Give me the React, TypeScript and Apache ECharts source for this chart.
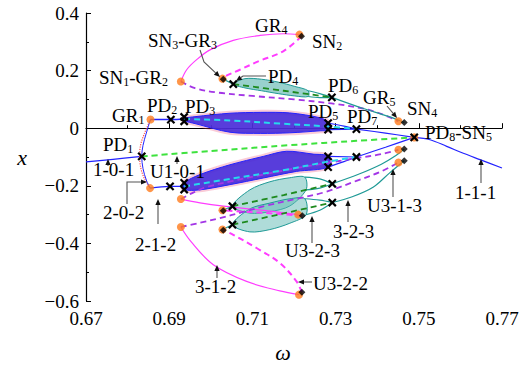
import React, { useEffect, useRef } from "react";
import * as echarts from "echarts";

const SERIF = '"Liberation Serif", "Times New Roman", serif';

// ---- axes ----
const OMEGA_MIN = 0.67;
const OMEGA_MAX = 0.77;
const OMEGA_STEP = 0.02;
const X_MIN = -0.6;
const X_MAX = 0.4;
const X_STEP = 0.2;

// ---- period-1 orbit ----
const p1Left = [[0.67, -0.117], [0.6765, -0.108], [0.6834, -0.098]];
const p1Unstable = [[0.6834, -0.098], [0.7, -0.079], [0.719, -0.059], [0.735, -0.044], [0.7489, -0.032]];
const p1Right = [[0.7489, -0.032], [0.7527, -0.04], [0.7567, -0.063], [0.7607, -0.087], [0.7647, -0.109], [0.77, -0.138]];

// ---- period-2 orbit ----
const p2Fork = [[0.6855, 0.03], [0.6845, -0.017], [0.6837, -0.06], [0.6834, -0.098], [0.6837, -0.14], [0.6845, -0.18], [0.6854, -0.208]];
const p2ForkUnstable = [[0.6855, 0.03], [0.684, -0.02], [0.6831, -0.06], [0.6829, -0.098], [0.6832, -0.14], [0.6842, -0.18], [0.6854, -0.208]];
const p2UpperStable = [[0.6855, 0.03], [0.6904, 0.03], [0.6936, 0.032]];
const p2LowerStable = [[0.6854, -0.208], [0.6902, -0.202], [0.6936, -0.202]];
const p2UpperUnstable = [[0.6936, 0.032], [0.7046, 0.027], [0.7166, 0.016], [0.7282, 0.006], [0.735, -0.003]];
const p2LowerUnstable = [[0.6936, -0.202], [0.705, -0.175], [0.717, -0.147], [0.7282, -0.116], [0.735, -0.1]];
const p4UpperA = [[0.7282, 0.018], [0.732, 0.007], [0.735, -0.003]];
const p4UpperB = [[0.7282, -0.005], [0.735, -0.003]];
const p4LowerA = [[0.7282, -0.098], [0.735, -0.1]];
const p4LowerB = [[0.7282, -0.135], [0.732, -0.116], [0.735, -0.1]];
const p2UpperRight = [[0.735, -0.003], [0.742, -0.017], [0.7489, -0.032]];
const p2LowerRight = [[0.735, -0.1], [0.742, -0.066], [0.7489, -0.032]];

// chaotic bands of the period-2 cascade
const chaosUpper = [
  [0.6936, 0.034], [0.6962, 0.04], [0.7046, 0.052], [0.712, 0.055], [0.719, 0.053], [0.7263, 0.036], [0.7282, 0.02],
  [0.7282, -0.006], [0.7263, -0.009], [0.719, -0.016], [0.712, -0.018], [0.7046, -0.014], [0.6962, 0.016], [0.6936, 0.026],
];
const chaosLower = [
  [0.6936, -0.19], [0.6974, -0.161], [0.7046, -0.127], [0.7126, -0.098], [0.7182, -0.08], [0.7246, -0.09], [0.7282, -0.097],
  [0.7282, -0.135], [0.7206, -0.15], [0.7126, -0.173], [0.7046, -0.196], [0.6974, -0.214], [0.6936, -0.213],
];

// ---- period-3 orbit ----
const p3StableA = [[0.6928, 0.162], [0.6942, 0.203], [0.6966, 0.238], [0.6998, 0.272], [0.7054, 0.305], [0.7118, 0.322], [0.7175, 0.328], [0.7213, 0.325]];
const p3StableB = [[0.6928, -0.246], [0.6974, -0.259], [0.7026, -0.27], [0.7126, -0.285], [0.721, -0.3]];
const p3StableC = [[0.6928, -0.343], [0.6952, -0.393], [0.7006, -0.474], [0.7086, -0.532], [0.7166, -0.565], [0.7212, -0.578]];
const p3SaddleA = [[0.7218, 0.319], [0.7174, 0.267], [0.7114, 0.232], [0.707, 0.203], [0.7034, 0.18], [0.7028, 0.172]];
const p3SaddleB = [[0.722, -0.304], [0.715, -0.296], [0.708, -0.29], [0.7028, -0.285]];
const p3SaddleC = [[0.7219, -0.57], [0.7206, -0.532], [0.7166, -0.468], [0.711, -0.416], [0.7054, -0.37], [0.7028, -0.352]];
const p3UnstableA = [[0.6928, 0.162], [0.6962, 0.139], [0.7015, 0.124], [0.71, 0.112], [0.72, 0.1], [0.729, 0.086], [0.7367, 0.068], [0.7411, 0.049], [0.7451, 0.024]];
const p3UnstableB = [[0.6928, -0.246], [0.696, -0.222], [0.699, -0.204], [0.705, -0.184], [0.712, -0.163], [0.72, -0.14], [0.7282, -0.12], [0.735, -0.104], [0.741, -0.09], [0.7451, -0.075]];
const p3UnstableC = [[0.6928, -0.343], [0.6975, -0.328], [0.7022, -0.312], [0.708, -0.29], [0.713, -0.27], [0.72, -0.247], [0.7274, -0.222], [0.735, -0.183], [0.741, -0.15], [0.7451, -0.119]];

// period-3 segments past SN3 / PD4 / PD6
const p3LinkA = [[0.7028, 0.172], [0.7054, 0.153]];
const p3LinkB = [[0.7028, -0.285], [0.7052, -0.271]];
const p3LinkC = [[0.7028, -0.352], [0.7052, -0.335]];
const p3MidA = [[0.7054, 0.153], [0.7175, 0.13], [0.7291, 0.107]];
const p3MidB = [[0.7052, -0.271], [0.7175, -0.232], [0.7292, -0.193]];
const p3MidC = [[0.7052, -0.335], [0.7175, -0.296], [0.7292, -0.258]];
const p3TailA = [[0.7291, 0.107], [0.7363, 0.07], [0.7427, 0.041], [0.7465, 0.02]];
const p3TailB = [[0.7292, -0.193], [0.7355, -0.16], [0.741, -0.125], [0.7445, -0.095], [0.7465, -0.072]];
const p3TailC = [[0.7292, -0.258], [0.734, -0.238], [0.739, -0.205], [0.743, -0.155], [0.7465, -0.113]];

// period-6 loops (upper / lower edges after the chaotic part)
const p6Loops = [
  [[0.7234, 0.13], [0.7262, 0.12], [0.7291, 0.107]],
  [[0.7234, 0.11], [0.7262, 0.106], [0.7291, 0.107]],
  [[0.7226, -0.17], [0.7262, -0.176], [0.7292, -0.193]],
  [[0.7229, -0.214], [0.7262, -0.208], [0.7292, -0.193]],
  [[0.7226, -0.245], [0.7262, -0.25], [0.7292, -0.258]],
  [[0.7229, -0.3], [0.7262, -0.285], [0.7292, -0.258]],
];

// chaotic regions of the period-3 cascade
const chaosA = [
  [0.7054, 0.153], [0.7082, 0.172], [0.7122, 0.17], [0.7162, 0.16], [0.7202, 0.145], [0.7234, 0.13],
  [0.7234, 0.11], [0.7202, 0.112], [0.7162, 0.12], [0.7122, 0.13], [0.7082, 0.14],
];
const chaosB = [
  [0.7052, -0.271], [0.7094, -0.214], [0.7142, -0.186], [0.719, -0.172], [0.7226, -0.17],
  [0.7229, -0.214], [0.719, -0.27], [0.7142, -0.29], [0.7094, -0.295],
];
const chaosC = [
  [0.7052, -0.335], [0.7094, -0.28], [0.7142, -0.26], [0.719, -0.245], [0.7226, -0.245],
  [0.7229, -0.3], [0.719, -0.33], [0.7142, -0.352], [0.7094, -0.36],
];

// ---- bifurcation points ----
const grazing = [
  [0.6855, 0.03], [0.6854, -0.208],
  [0.6928, 0.162], [0.6928, -0.246], [0.6928, -0.343],
  [0.7028, 0.172], [0.7028, -0.285], [0.7028, -0.352],
  [0.7213, 0.325], [0.721, -0.3], [0.7212, -0.578],
  [0.7451, 0.024], [0.7451, -0.075], [0.7451, -0.119],
  [0.7489, -0.032],
];
const saddleNode = [
  [0.7218, 0.319], [0.722, -0.304], [0.7219, -0.57],
  [0.703, 0.17], [0.703, -0.287], [0.703, -0.354],
  [0.7465, 0.02], [0.7465, -0.072], [0.7465, -0.113],
];
const periodDoubling = [
  [0.6834, -0.098],
  [0.6904, 0.03], [0.6902, -0.202],
  [0.6936, 0.039], [0.6936, 0.024], [0.6936, -0.19], [0.6936, -0.213],
  [0.7054, 0.153], [0.7052, -0.271], [0.7052, -0.335],
  [0.7282, 0.018], [0.7282, -0.005], [0.7282, -0.098], [0.7282, -0.135],
  [0.7291, 0.107], [0.7292, -0.193], [0.7292, -0.258],
  [0.735, -0.003], [0.735, -0.1],
  [0.7489, -0.032],
];

// ---- annotations ----
const labels: [string, number, number][] = [
  ["GR{s|4}", 255, 25],
  ["SN{s|2}", 312, 41],
  ["SN{s|3}-GR{s|3}", 148, 40],
  ["SN{s|1}-GR{s|2}", 99, 77],
  ["PD{s|4}", 268, 76],
  ["PD{s|6}", 328, 85],
  ["GR{s|5}", 363, 97],
  ["SN{s|4}", 407, 108],
  ["PD{s|5}", 308, 111],
  ["PD{s|7}", 347, 116],
  ["PD{s|8}-SN{s|5}", 425, 132],
  ["GR{s|1}", 112, 115],
  ["PD{s|2}", 147, 105],
  ["PD{s|3}", 185, 106],
  ["PD{s|1}", 103, 144],
  ["1-0-1", 93, 169],
  ["U1-0-1", 150, 171],
  ["2-0-2", 103, 212],
  ["2-1-2", 135, 244],
  ["3-1-2", 195, 286],
  ["U3-2-2", 313, 283],
  ["U3-2-3", 285, 250],
  ["3-2-3", 333, 231],
  ["U3-1-3", 367, 205],
  ["1-1-1", 455, 192],
];
const pointers: number[][][] = [
  [[108, 166], [108, 159]],
  [[177, 164], [177, 156]],
  [[127, 204], [127, 182], [147, 182]],
  [[158, 224], [158, 199]],
  [[217, 278], [217, 265]],
  [[312, 282], [298, 282]],
  [[312, 243], [312, 216]],
  [[348, 222], [348, 200]],
  [[393, 197], [393, 169]],
  [[481, 183], [481, 159]],
  [[200, 50], [204, 62], [220, 77]],
  [[266, 76], [243, 76], [236, 81]],
  [[387, 106], [397, 118]],
];

const BLUE = "#2323ff";
const MAGENTA = "#ff3cff";
const PURPLE = "#a335e6";
const TEAL = "#1f9a96";
const DKGREEN = "#1e8a1e";

function curve(data: number[][], color: string, width: number, type: any = "solid", z = 3) {
  return {
    type: "line",
    data,
    smooth: 0.35,
    symbol: "none",
    silent: true,
    animation: false,
    z,
    lineStyle: { color, width, type },
  };
}

function region(poly: number[][], fill: string, stroke: string, halo: string | null, z = 1) {
  return {
    type: "custom",
    coordinateSystem: "cartesian2d",
    data: poly,
    silent: true,
    z,
    renderItem: (params: any, api: any) => {
      if (params.dataIndex !== 0) return null;
      const pts = poly.map((p) => api.coord(p));
      const children: any[] = [];
      if (halo) {
        children.push({
          type: "polygon",
          shape: { points: pts, smooth: 0.3 },
          style: { fill: halo, stroke: halo, lineWidth: 5 },
        });
      }
      children.push({
        type: "polygon",
        shape: { points: pts, smooth: 0.3 },
        style: { fill, stroke, lineWidth: 1 },
      });
      return { type: "group", children };
    },
  };
}

function arrowGraphics(pts: number[][]) {
  const n = pts.length;
  const [x1, y1] = pts[n - 2];
  const [x2, y2] = pts[n - 1];
  const len = Math.hypot(x2 - x1, y2 - y1) || 1;
  const ux = (x2 - x1) / len;
  const uy = (y2 - y1) / len;
  const hl = 6;
  const hw = 2.6;
  const bx = x2 - ux * hl;
  const by = y2 - uy * hl;
  return [
    {
      type: "polyline",
      shape: { points: [...pts.slice(0, n - 1), [bx, by]] },
      style: { stroke: "#555", lineWidth: 1.1, fill: null },
      z: 20,
    },
    {
      type: "polygon",
      shape: { points: [[x2, y2], [bx - uy * hw, by + ux * hw], [bx + uy * hw, by - ux * hw]] },
      style: { fill: "#111" },
      z: 20,
    },
  ];
}

export default function App() {
  const ref = useRef<HTMLDivElement>(null);
  useEffect(() => {
    const chart = echarts.init(ref.current!, null, { renderer: "svg" });
    const tickLabel = { fontFamily: SERIF, fontSize: 19, color: "#000" };
    const option: any = {
      animation: false,
      backgroundColor: "#fff",
      grid: { left: 86, top: 13, width: 416, height: 288, containLabel: false },
      xAxis: {
        type: "value",
        min: OMEGA_MIN,
        max: OMEGA_MAX,
        interval: OMEGA_STEP,
        axisLine: { lineStyle: { color: "#000", width: 1.2 } },
        axisTick: { inside: true, length: 5, lineStyle: { color: "#000" } },
        minorTick: { show: true, splitNumber: 2, length: 3, lineStyle: { color: "#000" } },
        splitLine: { show: false },
        axisLabel: { ...tickLabel, margin: 8, formatter: (v: number) => v.toFixed(2) },
      },
      yAxis: {
        type: "value",
        min: X_MIN,
        max: X_MAX,
        interval: X_STEP,
        axisLine: { lineStyle: { color: "#000", width: 1.2 } },
        axisTick: { inside: true, length: 5, lineStyle: { color: "#000" } },
        minorTick: { show: true, splitNumber: 2, length: 3, lineStyle: { color: "#000" } },
        splitLine: { show: false },
        axisLabel: {
          ...tickLabel,
          margin: 7,
          formatter: (v: number) => (Math.abs(v) < 1e-9 ? "0" : (v < 0 ? "\u2212" : "") + Math.abs(v).toFixed(1)),
        },
      },
      series: [
        region(chaosUpper, "rgba(70,46,220,0.9)", BLUE, "rgba(236,70,110,0.28)"),
        region(chaosLower, "rgba(70,46,220,0.9)", BLUE, "rgba(236,70,110,0.28)"),
        region(chaosA, "rgba(85,178,172,0.6)", TEAL, null),
        region(chaosB, "rgba(95,185,180,0.5)", TEAL, null),
        region(chaosC, "rgba(95,185,180,0.5)", TEAL, null),

        curve(p1Left, BLUE, 1.2),
        curve(p1Unstable, "#3ee23e", 2, [6, 4]),
        curve(p1Right, BLUE, 1.2),

        curve(p2ForkUnstable, "#ff4b4b", 1.2, "dotted"),
        curve(p2Fork, BLUE, 1, "solid"),
        curve(p2UpperStable, BLUE, 1.4),
        curve(p2LowerStable, BLUE, 1.4),
        curve(p2UpperUnstable, "#26d8ee", 2, [6, 4], 4),
        curve(p2LowerUnstable, "#26d8ee", 2, [6, 4], 4),
        curve(p4UpperA, BLUE, 1.2),
        curve(p4UpperB, BLUE, 1.2),
        curve(p4LowerA, BLUE, 1.2),
        curve(p4LowerB, BLUE, 1.2),
        curve(p2UpperRight, BLUE, 1.2),
        curve(p2LowerRight, BLUE, 1.2),

        curve(p3StableA, MAGENTA, 1.2),
        curve(p3StableB, MAGENTA, 1.2),
        curve(p3StableC, MAGENTA, 1.2),
        curve(p3SaddleA, MAGENTA, 2, [6, 4]),
        curve(p3SaddleB, MAGENTA, 2, [6, 4]),
        curve(p3SaddleC, MAGENTA, 2, [6, 4]),
        curve(p3UnstableA, PURPLE, 1.8, [6, 4]),
        curve(p3UnstableB, PURPLE, 1.8, [6, 4]),
        curve(p3UnstableC, PURPLE, 1.8, [6, 4]),

        curve(p3LinkA, TEAL, 1.2),
        curve(p3LinkB, TEAL, 1.2),
        curve(p3LinkC, TEAL, 1.2),
        curve(p3MidA, DKGREEN, 1.8, [6, 4], 4),
        curve(p3MidB, DKGREEN, 1.8, [6, 4], 4),
        curve(p3MidC, DKGREEN, 1.8, [6, 4], 4),
        curve(p3TailA, TEAL, 1.2),
        curve(p3TailB, TEAL, 1.2),
        curve(p3TailC, TEAL, 1.2),
        ...p6Loops.map((d) => curve(d, TEAL, 1.2)),

        {
          type: "scatter",
          data: grazing,
          symbol: "circle",
          symbolSize: 8,
          silent: true,
          z: 6,
          itemStyle: { color: "#ff7a1a" },
        },
        {
          type: "scatter",
          data: saddleNode,
          symbol: "diamond",
          symbolSize: 7,
          silent: true,
          z: 7,
          itemStyle: { color: "#000" },
        },
        {
          type: "custom",
          coordinateSystem: "cartesian2d",
          data: periodDoubling,
          silent: true,
          z: 8,
          renderItem: (params: any, api: any) => {
            const [cx, cy] = api.coord([api.value(0), api.value(1)]);
            const r = 3.6;
            const st = { stroke: "#000", lineWidth: 2.2 };
            return {
              type: "group",
              children: [
                { type: "line", shape: { x1: cx - r, y1: cy - r, x2: cx + r, y2: cy + r }, style: st },
                { type: "line", shape: { x1: cx - r, y1: cy + r, x2: cx + r, y2: cy - r }, style: st },
              ],
            };
          },
        },
      ],
      graphic: [
        ...labels.map(([text, x, y]) => ({
          type: "text",
          x,
          y,
          z: 30,
          style: {
            text,
            fill: "#000",
            fontFamily: SERIF,
            fontSize: 19,
            align: "left",
            verticalAlign: "middle",
            rich: {
              s: { fontFamily: SERIF, fontSize: 12, fill: "#000", padding: [10, 0, 0, 0] },
            },
          },
        })),
        ...pointers.flatMap((p) => arrowGraphics(p)),
        {
          type: "text",
          x: 22,
          y: 157,
          z: 30,
          style: { text: "x", fill: "#000", fontFamily: SERIF, fontSize: 22, fontStyle: "italic", align: "center", verticalAlign: "middle" },
        },
        {
          type: "text",
          x: 283,
          y: 352,
          z: 30,
          style: { text: "\u03c9", fill: "#000", fontFamily: SERIF, fontSize: 22, fontStyle: "italic", align: "center", verticalAlign: "middle" },
        },
      ],
    };
    chart.setOption(option);
    return () => chart.dispose();
  }, []);
  return <div ref={ref} style={{ position: "absolute", left: 0, top: 0, width: 524, height: 371 }} />;
}
